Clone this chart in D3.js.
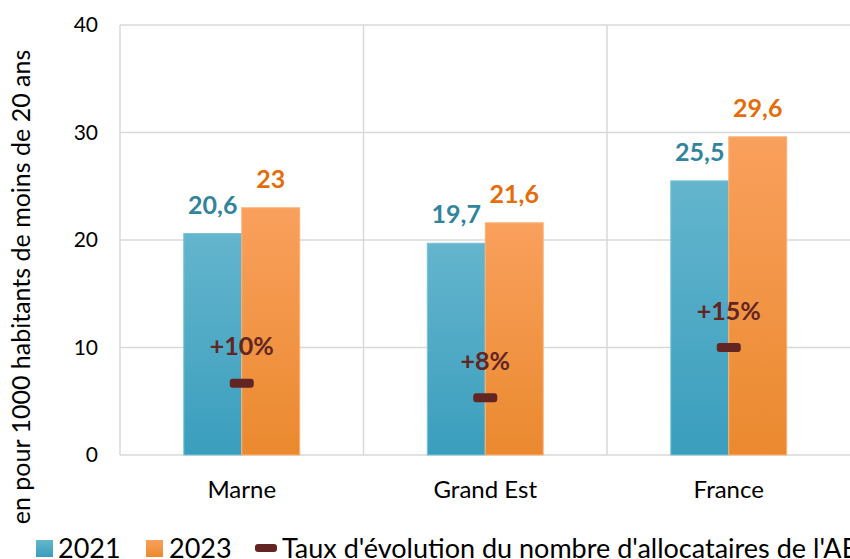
<!DOCTYPE html>
<html>
<head>
<meta charset="utf-8">
<script src="https://cdn.jsdelivr.net/npm/d3@7"></script>
<style>
  body { margin: 0; background: white; }
  svg { display: block; }
</style>
</head>
<body>
<script>
var categories = ['Marne', 'Grand Est', 'France'];
var seriesNames = ['2021', '2023'];
var values2021 = [20.6, 19.7, 25.5];
var values2023 = [23, 21.6, 29.6];
var tauxValues = [10, 8, 15];
var tauxLabels = ['+10%', '+8%', '+15%'];
var yTicks = [0, 10, 20, 30, 40];

var width = 850, height = 559;
var margin = { top: 25, right: 0, bottom: 104, left: 120 };
var plotRight = 850.5;
var font = 'Lato, "Open Sans", sans-serif';

var svg = d3.select('body').append('svg')
  .attr('width', width)
  .attr('height', height);

var defs = svg.append('defs');
function gradient(id, top, bottom) {
  var g = defs.append('linearGradient')
    .attr('id', id)
    .attr('x1', 0).attr('y1', 0).attr('x2', 0).attr('y2', 1);
  g.append('stop').attr('offset', '0%').attr('stop-color', top);
  g.append('stop').attr('offset', '100%').attr('stop-color', bottom);
}
gradient('grad2021', '#64b5cd', '#3a9ebd');
gradient('grad2023', '#f9a05d', '#ea892e');

var x0 = d3.scaleBand()
  .domain(categories)
  .range([margin.left, plotRight])
  .padding(0);

var x1 = d3.scaleBand()
  .domain(seriesNames)
  .range([0, x0.bandwidth()])
  .paddingInner(0)
  .paddingOuter(1.1);

var y = d3.scaleLinear()
  .domain([0, 40])
  .range([height - margin.bottom, margin.top]);

// hidden secondary axis for the rate markers (0 - 60 %)
var y2 = d3.scaleLinear()
  .domain([0, 60])
  .range([height - margin.bottom, margin.top]);

// horizontal gridlines
svg.append('g').selectAll('line')
  .data(yTicks)
  .enter().append('line')
  .attr('x1', margin.left)
  .attr('x2', plotRight)
  .attr('y1', function(d) { return y(d); })
  .attr('y2', function(d) { return y(d); })
  .attr('stroke', '#d9d9d9')
  .attr('stroke-width', 1.5);

// vertical separators between categories
svg.append('g').selectAll('line')
  .data(categories)
  .enter().append('line')
  .attr('x1', function(d) { return x0(d); })
  .attr('x2', function(d) { return x0(d); })
  .attr('y1', y(40))
  .attr('y2', y(0))
  .attr('stroke', '#d9d9d9')
  .attr('stroke-width', 1.5);

// y axis tick labels
var yAxis = d3.axisLeft(y).tickValues(yTicks).tickSize(0).tickPadding(22);
var yAxisG = svg.append('g')
  .attr('transform', 'translate(' + margin.left + ',0)')
  .call(yAxis);
yAxisG.select('.domain').remove();
yAxisG.selectAll('text')
  .style('font', '21px ' + font)
  .attr('fill', '#000');

// x axis category labels
var xAxis = d3.axisBottom(x0).tickSize(0).tickPadding(26);
var xAxisG = svg.append('g')
  .attr('transform', 'translate(0,' + y(0) + ')')
  .call(xAxis);
xAxisG.select('.domain').remove();
xAxisG.selectAll('text')
  .style('font', '24px ' + font)
  .attr('fill', '#000');

// bars
var rows = categories.map(function(c, i) {
  return { cat: c, vals: [
    { s: '2021', v: values2021[i] },
    { s: '2023', v: values2023[i] }
  ] };
});

var groups = svg.append('g').selectAll('g')
  .data(rows)
  .enter().append('g')
  .attr('transform', function(d) { return 'translate(' + x0(d.cat) + ',0)'; });

groups.selectAll('rect')
  .data(function(d) { return d.vals; })
  .enter().append('rect')
  .attr('x', function(d) { return x1(d.s); })
  .attr('y', function(d) { return y(d.v); })
  .attr('width', x1.bandwidth())
  .attr('height', function(d) { return y(0) - y(d.v); })
  .attr('fill', function(d) { return 'url(#grad' + d.s + ')'; })
  .attr('stroke', function(d) { return d.s === '2021' ? '#7cc3d8' : '#fbb27a'; })
  .attr('stroke-width', 1);

groups.selectAll('text.val')
  .data(function(d) { return d.vals; })
  .enter().append('text')
  .attr('class', 'val')
  .attr('x', function(d) { return x1(d.s) + x1.bandwidth() / 2; })
  .attr('y', function(d) { return y(d.v) - 20; })
  .attr('text-anchor', 'middle')
  .attr('fill', function(d) { return d.s === '2021' ? '#31849b' : '#e46c0a'; })
  .style('font', 'bold 25px ' + font)
  .text(function(d) { return String(d.v).replace('.', ','); });

// rate markers
var markers = svg.append('g').selectAll('g')
  .data(tauxValues)
  .enter().append('g')
  .attr('transform', function(d, i) {
    return 'translate(' + (x0(categories[i]) + x0.bandwidth() / 2) + ',' + y2(d) + ')';
  });

markers.append('rect')
  .attr('x', -12).attr('y', -4.5)
  .attr('width', 24).attr('height', 9)
  .attr('rx', 3)
  .attr('fill', '#632523');

markers.append('text')
  .attr('y', -28)
  .attr('text-anchor', 'middle')
  .attr('fill', '#632523')
  .style('font', 'bold 25px ' + font)
  .text(function(d, i) { return tauxLabels[i]; });

// y axis title
svg.append('text')
  .attr('transform', 'translate(30,' + 287 + ') rotate(-90)')
  .attr('text-anchor', 'middle')
  .style('font', '25px ' + font)
  .attr('fill', '#000')
  .text('en pour 1000 habitants de moins de 20 ans');

// legend
var legend = svg.append('g').attr('transform', 'translate(0,548)');
legend.append('rect').attr('x', 36).attr('y', -8).attr('width', 17).attr('height', 17).attr('fill', 'url(#grad2021)');
legend.append('text').attr('x', 58).attr('y', 10).style('font', '27px ' + font).text('2021');
legend.append('rect').attr('x', 146).attr('y', -8).attr('width', 17).attr('height', 17).attr('fill', 'url(#grad2023)');
legend.append('text').attr('x', 169).attr('y', 10).style('font', '27px ' + font).text('2023');
legend.append('rect').attr('x', 255).attr('y', -4).attr('width', 22).attr('height', 8).attr('rx', 3).attr('fill', '#632523');
legend.append('text').attr('x', 282).attr('y', 10).style('font', '27px ' + font)
  .text("Taux d'évolution du nombre d'allocataires de l'AEEH");
</script>
</body>
</html>
